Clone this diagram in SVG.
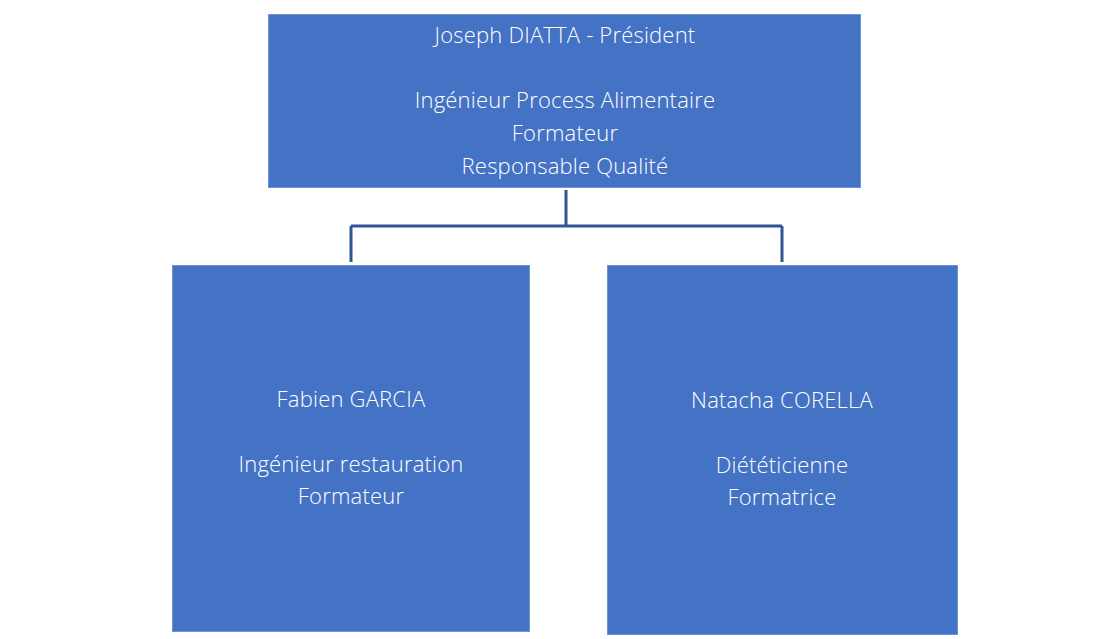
<svg xmlns="http://www.w3.org/2000/svg" width="1108" height="639" viewBox="0 0 1108 639">
<style>
.box{fill:#4472C4;stroke:#6F93D3;stroke-width:1}
.t{font-family:"Open Sans","Liberation Sans",sans-serif;font-weight:300;font-size:22px;letter-spacing:0.2px;fill:#ffffff;text-anchor:middle}
.c{fill:none;stroke:#2F5597;stroke-width:3}
</style>
<rect width="1108" height="639" fill="#ffffff"/>
<g id="connectors">
<path class="c" d="M566 190 V226 M351 226 H782 M351 226 V262 M782 226 V262"/>
</g>
<g id="president">
<rect class="box" x="268.5" y="14.5" width="592" height="173"/>
<text class="t" x="565" y="43">Joseph DIATTA - Président</text>
<text class="t" x="565" y="108">Ingénieur Process Alimentaire</text>
<text class="t" x="565" y="141">Formateur</text>
<text class="t" x="565" y="174">Responsable Qualité</text>
</g>
<g id="fabien">
<rect class="box" x="172.5" y="265.5" width="357" height="366"/>
<text class="t" x="351" y="407">Fabien GARCIA</text>
<text class="t" x="351" y="472">Ingénieur restauration</text>
<text class="t" x="351" y="504">Formateur</text>
</g>
<g id="natacha">
<rect class="box" x="607.5" y="265.5" width="350" height="369"/>
<text class="t" x="782" y="408">Natacha CORELLA</text>
<text class="t" x="782" y="473">Diététicienne</text>
<text class="t" x="782" y="505">Formatrice</text>
</g>
</svg>
